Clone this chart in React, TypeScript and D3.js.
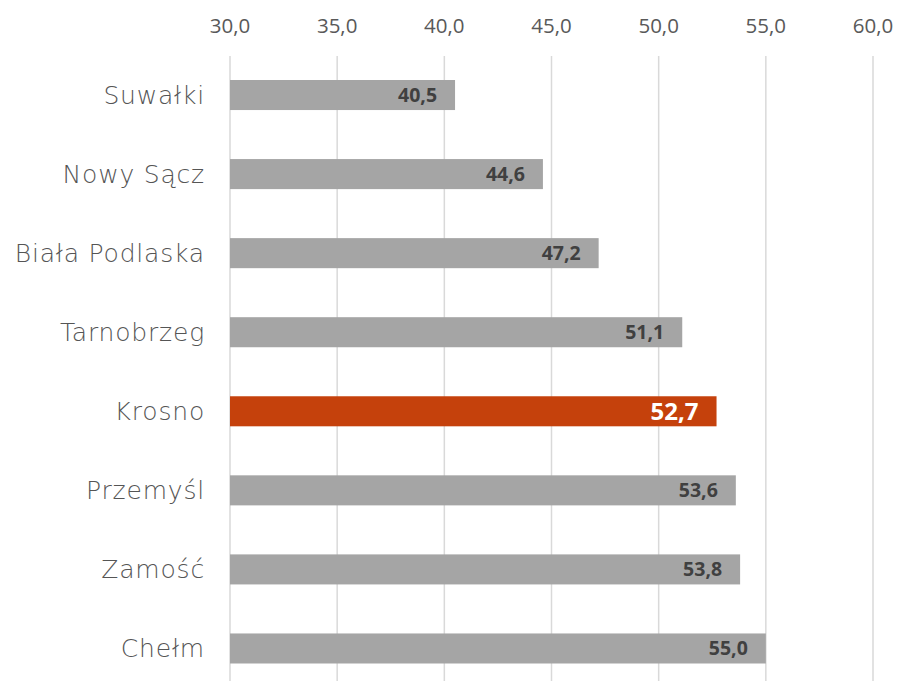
import React from "react";
import * as d3 from "d3";

const categories = ["Suwałki", "Nowy Sącz", "Biała Podlaska", "Tarnobrzeg", "Krosno", "Przemyśl", "Zamość", "Chełm"];
const values = [40.5, 44.6, 47.2, 51.1, 52.7, 53.6, 53.8, 55.0];
const highlight = "Krosno";
const ticks = [30, 35, 40, 45, 50, 55, 60];

const width = 897;
const height = 681;
const margin = { top: 56, right: 24, bottom: 18, left: 230 };

const fmt = (v: number) => v.toFixed(1).replace(".", ",");

export default function App() {
  const x = d3.scaleLinear().domain([30, 60]).range([margin.left, 873]);
  const y = d3
    .scaleBand()
    .domain(categories)
    .range([80, 663.5])
    .paddingInner(0.62)
    .paddingOuter(0);

  return (
    <svg
      width={width}
      height={height}
      style={{ position: "absolute", left: 0, top: 0, background: "#fff" }}
    >
      {ticks.map((t) => (
        <g key={t}>
          <line x1={x(t)} x2={x(t)} y1={margin.top} y2={height} stroke="#d9d9d9" strokeWidth={1.5} />
          <text
            x={x(t)}
            y={33}
            textAnchor="middle"
            fontFamily="'Open Sans', sans-serif"
            fontSize={20.5}
            fill="#595959"
          >
            {fmt(t)}
          </text>
        </g>
      ))}
      {categories.map((c, i) => {
        const isHi = c === highlight;
        const y0 = y(c) as number;
        const bh = y.bandwidth();
        return (
          <g key={c}>
            <rect
              x={x(30)}
              y={y0}
              width={x(values[i]) - x(30)}
              height={bh}
              fill={isHi ? "#c5410c" : "#a5a5a5"}
            />
            <text
              x={x(values[i]) - 18}
              y={y0 + bh / 2}
              dy="0.36em"
              textAnchor="end"
              fontFamily="'Open Sans', sans-serif"
              fontWeight="bold"
              fontSize={isHi ? 24 : 19.5}
              fill={isHi ? "#ffffff" : "#404040"}
            >
              {fmt(values[i])}
            </text>
            <text
              x={205}
              y={y0 + bh / 2}
              dy="0.36em"
              textAnchor="end"
              fontFamily="'DejaVu Sans', sans-serif"
              fontWeight={300}
              fontSize={25}
              letterSpacing={0.8}
              fill="#555555"
            >
              {c}
            </text>
          </g>
        );
      })}
    </svg>
  );
}
